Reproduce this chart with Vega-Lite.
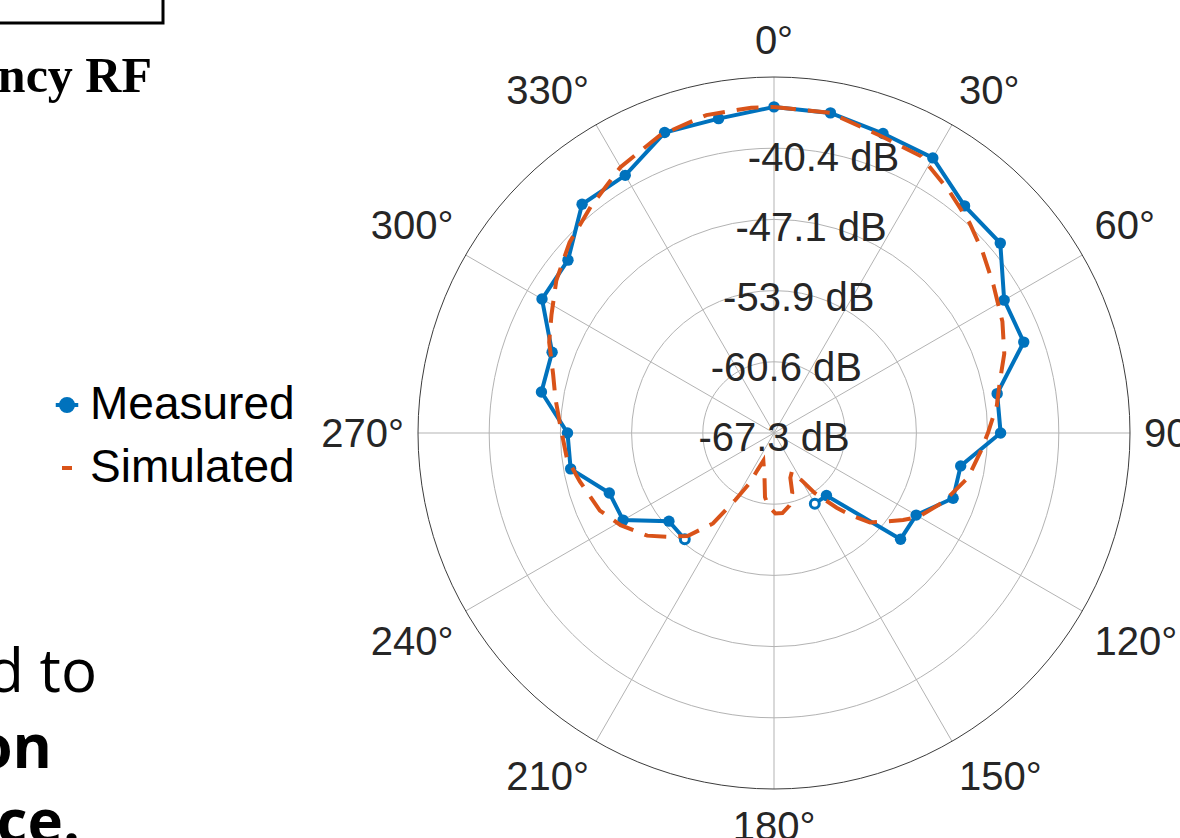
{
  "$schema": "https://vega.github.io/schema/vega-lite/v6.json",
  "width": 1180,
  "height": 838,
  "autosize": "none",
  "padding": 0,
  "background": "white",
  "config": {"view": {"stroke": null}, "font": "Liberation Sans"},
  "datasets": {
    "measured": [
      {"deg": 220, "db": -54.2}, {"deg": 230, "db": -54.35}, {"deg": 240, "db": -50.85}, {"deg": 250, "db": -50.75},
      {"deg": 260, "db": -47.8}, {"deg": 270, "db": -47.8}, {"deg": 280, "db": -45.0}, {"deg": 290, "db": -45.0},
      {"deg": 300, "db": -42.0}, {"deg": 310, "db": -41.9}, {"deg": 320, "db": -39.1}, {"deg": 330, "db": -39.2},
      {"deg": 340, "db": -37.1}, {"deg": 350, "db": -37.15}, {"deg": 0, "db": -36.5}, {"deg": 10, "db": -36.6},
      {"deg": 20, "db": -37.2}, {"deg": 30, "db": -37.3}, {"deg": 40, "db": -39.3}, {"deg": 50, "db": -39.4},
      {"deg": 60, "db": -42.2}, {"deg": 70, "db": -42.2}, {"deg": 80, "db": -45.9}, {"deg": 90, "db": -45.9},
      {"deg": 100, "db": -49.4}, {"deg": 110, "db": -49.3}, {"deg": 120, "db": -51.8}, {"deg": 130, "db": -51.7},
      {"deg": 140, "db": -59.6}, {"deg": 150, "db": -59.6}
    ],
    "simulated": [
      {"deg": 0, "db": -36.5}, {"deg": 10, "db": -36.6}, {"deg": 20, "db": -37.5}, {"deg": 28, "db": -37.7},
      {"deg": 36, "db": -39.1}, {"deg": 43, "db": -40.2}, {"deg": 49, "db": -41.2}, {"deg": 56, "db": -42.3},
      {"deg": 64, "db": -43.3}, {"deg": 71, "db": -44.3}, {"deg": 77, "db": -45.4}, {"deg": 83, "db": -46.1},
      {"deg": 90, "db": -47.1}, {"deg": 95, "db": -47.7}, {"deg": 103, "db": -48.5}, {"deg": 112, "db": -50.0},
      {"deg": 120, "db": -51.5}, {"deg": 124, "db": -52.6}, {"deg": 129, "db": -54.0}, {"deg": 133, "db": -54.9},
      {"deg": 137, "db": -56.7}, {"deg": 140, "db": -58.1}, {"deg": 146, "db": -60.5}, {"deg": 149, "db": -61.9},
      {"deg": 155, "db": -63.3}, {"deg": 160, "db": -62.8}, {"deg": 163, "db": -61.4}, {"deg": 168, "db": -60.3},
      {"deg": 174, "db": -59.7}, {"deg": 179, "db": -59.7}, {"deg": 185, "db": -60.5}, {"deg": 188, "db": -61.2},
      {"deg": 192, "db": -63.0}, {"deg": 197, "db": -64.0}, {"deg": 201, "db": -64.5}, {"deg": 204, "db": -63.5},
      {"deg": 206, "db": -62.0}, {"deg": 210, "db": -60.0}, {"deg": 214, "db": -57.0}, {"deg": 220, "db": -54.6},
      {"deg": 226, "db": -53.2}, {"deg": 231, "db": -51.9}, {"deg": 239, "db": -50.4}, {"deg": 246, "db": -49.3},
      {"deg": 256, "db": -48.4}, {"deg": 263, "db": -47.6}, {"deg": 272, "db": -47.1}, {"deg": 279, "db": -46.4},
      {"deg": 285, "db": -45.7}, {"deg": 292, "db": -44.4}, {"deg": 298, "db": -43.5}, {"deg": 305, "db": -42.2},
      {"deg": 313, "db": -40.9}, {"deg": 321, "db": -39.8}, {"deg": 330, "db": -38.3}, {"deg": 339, "db": -37.2},
      {"deg": 348, "db": -36.6}, {"deg": 356, "db": -36.5}, {"deg": 360, "db": -36.5}
    ],
    "rings": [
      {"db": -67.31, "label": "-67.3 dB"},
      {"db": -60.583, "label": "-60.6 dB"},
      {"db": -53.856, "label": "-53.9 dB"},
      {"db": -47.129, "label": "-47.1 dB"},
      {"db": -40.402, "label": "-40.4 dB"},
      {"db": -33.675, "label": ""}
    ],
    "spokes": [
      {"deg": 0, "label": "0°"}, {"deg": 30, "label": "30°"}, {"deg": 60, "label": "60°"}, {"deg": 90, "label": "90°"},
      {"deg": 120, "label": "120°"}, {"deg": 150, "label": "150°"}, {"deg": 180, "label": "180°"}, {"deg": 210, "label": "210°"},
      {"deg": 240, "label": "240°"}, {"deg": 270, "label": "270°"}, {"deg": 300, "label": "300°"}, {"deg": 330, "label": "330°"}
    ]
  },
  "layer": [
    {
      "data": {"name": "rings"},
      "transform": [
        {"filter": "datum.db > -67 && datum.db < -34"},
        {"calculate": "(datum.db + 67.31) / 33.635 * 356", "as": "r"},
        {"calculate": "0", "as": "cx"},
        {"calculate": "0", "as": "cy"}
      ],
      "mark": {"type": "point", "shape": "circle", "filled": false, "stroke": "#b3b3b3", "strokeWidth": 1, "opacity": 1},
      "encoding": {
        "x": {"field": "cx", "type": "quantitative", "scale": {"domain": [-774, 406], "nice": false, "zero": false}, "axis": null},
        "y": {"field": "cy", "type": "quantitative", "scale": {"domain": [-405, 433], "nice": false, "zero": false}, "axis": null},
        "size": {"field": "r", "type": "quantitative", "scale": {"type": "pow", "exponent": 2, "domain": [0, 356], "range": [0, 506944], "zero": true, "nice": false}, "legend": null}
      }
    },
    {
      "data": {"name": "spokes"},
      "transform": [
        {"calculate": "datum.deg * PI / 180", "as": "t"},
        {"calculate": "0", "as": "cx"},
        {"calculate": "0", "as": "cy"},
        {"calculate": "356 * sin(datum.t)", "as": "ex"},
        {"calculate": "356 * cos(datum.t)", "as": "ey"}
      ],
      "mark": {"type": "rule", "color": "#b3b3b3", "strokeWidth": 1},
      "encoding": {
        "x": {"field": "cx", "type": "quantitative", "scale": {"domain": [-774, 406], "nice": false, "zero": false}, "axis": null},
        "y": {"field": "cy", "type": "quantitative", "scale": {"domain": [-405, 433], "nice": false, "zero": false}, "axis": null},
        "x2": {"field": "ex"},
        "y2": {"field": "ey"}
      }
    },
    {
      "data": {"name": "rings"},
      "transform": [
        {"filter": "datum.db > -34"},
        {"calculate": "(datum.db + 67.31) / 33.635 * 356", "as": "r"},
        {"calculate": "0", "as": "cx"},
        {"calculate": "0", "as": "cy"}
      ],
      "mark": {"type": "point", "shape": "circle", "filled": false, "stroke": "#3c3c3c", "strokeWidth": 1, "opacity": 1},
      "encoding": {
        "x": {"field": "cx", "type": "quantitative", "scale": {"domain": [-774, 406], "nice": false, "zero": false}, "axis": null},
        "y": {"field": "cy", "type": "quantitative", "scale": {"domain": [-405, 433], "nice": false, "zero": false}, "axis": null},
        "size": {"field": "r", "type": "quantitative", "scale": {"type": "pow", "exponent": 2, "domain": [0, 356], "range": [0, 506944], "zero": true, "nice": false}, "legend": null}
      }
    },
    {
      "data": {"name": "measured"},
      "transform": [
        {"calculate": "'Measured'", "as": "series"},
        {"calculate": "datum.deg >= 200 ? datum.deg - 360 : datum.deg", "as": "ord"},
        {"calculate": "(datum.db + 67.31) / 33.635 * 356", "as": "r"},
        {"calculate": "datum.r * sin(datum.deg * PI / 180)", "as": "px"},
        {"calculate": "datum.r * cos(datum.deg * PI / 180)", "as": "py"}
      ],
      "mark": {"type": "line", "strokeWidth": 4},
      "encoding": {
        "x": {"field": "px", "type": "quantitative", "scale": {"domain": [-774, 406], "nice": false, "zero": false}, "axis": null},
        "y": {"field": "py", "type": "quantitative", "scale": {"domain": [-405, 433], "nice": false, "zero": false}, "axis": null},
        "order": {"field": "ord", "type": "quantitative"},
        "color": {
          "field": "series",
          "type": "nominal",
          "scale": {"domain": ["Measured", "Simulated"], "range": ["#0072BD", "#D95319"]},
          "legend": {
            "orient": "none",
            "legendX": 44,
            "legendY": 382,
            "title": null,
            "padding": 0,
            "labelFont": "Liberation Sans",
            "labelFontSize": 46,
            "labelColor": "#000000",
            "labelOffset": 0,
            "labelLimit": 600,
            "symbolSize": 625,
            "rowPadding": 17,
            "encode": {
              "symbols": {
                "update": {
                  "shape": {"signal": "datum.value === 'Measured' ? 'M-0.9,0L0.9,0M0.48,0A0.48,0.48 0 1,1 -0.48,0A0.48,0.48 0 1,1 0.48,0Z' : 'M-0.4,0L0.4,0'"},
                  "fill": {"signal": "datum.value === 'Measured' ? '#0072BD' : 'transparent'"},
                  "stroke": {"signal": "datum.value === 'Measured' ? '#0072BD' : '#D95319'"},
                  "strokeWidth": {"value": 4},
                  "opacity": {"value": 1}
                }
              }
            }
          }
        }
      }
    },
    {
      "data": {"name": "measured"},
      "transform": [
        {"filter": "datum.deg != 150 && datum.deg != 220"},
        {"calculate": "(datum.db + 67.31) / 33.635 * 356", "as": "r"},
        {"calculate": "datum.r * sin(datum.deg * PI / 180)", "as": "px"},
        {"calculate": "datum.r * cos(datum.deg * PI / 180)", "as": "py"}
      ],
      "mark": {"type": "point", "shape": "circle", "filled": true, "color": "#0072BD", "size": 130, "opacity": 1},
      "encoding": {
        "x": {"field": "px", "type": "quantitative", "scale": {"domain": [-774, 406], "nice": false, "zero": false}, "axis": null},
        "y": {"field": "py", "type": "quantitative", "scale": {"domain": [-405, 433], "nice": false, "zero": false}, "axis": null}
      }
    },
    {
      "data": {"name": "measured"},
      "transform": [
        {"filter": "datum.deg == 150 || datum.deg == 220"},
        {"calculate": "(datum.db + 67.31) / 33.635 * 356", "as": "r"},
        {"calculate": "datum.r * sin(datum.deg * PI / 180)", "as": "px"},
        {"calculate": "datum.r * cos(datum.deg * PI / 180)", "as": "py"}
      ],
      "mark": {"type": "point", "shape": "circle", "filled": true, "fill": "#ffffff", "stroke": "#0072BD", "strokeWidth": 3, "size": 80, "opacity": 1},
      "encoding": {
        "x": {"field": "px", "type": "quantitative", "scale": {"domain": [-774, 406], "nice": false, "zero": false}, "axis": null},
        "y": {"field": "py", "type": "quantitative", "scale": {"domain": [-405, 433], "nice": false, "zero": false}, "axis": null}
      }
    },
    {
      "data": {"name": "simulated"},
      "transform": [
        {"calculate": "'Simulated'", "as": "series"},
        {"calculate": "(datum.db + 67.31) / 33.635 * 356", "as": "r"},
        {"calculate": "datum.r * sin(datum.deg * PI / 180)", "as": "px"},
        {"calculate": "datum.r * cos(datum.deg * PI / 180)", "as": "py"}
      ],
      "mark": {"type": "line", "strokeWidth": 4, "strokeDash": [22, 12]},
      "encoding": {
        "x": {"field": "px", "type": "quantitative", "scale": {"domain": [-774, 406], "nice": false, "zero": false}, "axis": null},
        "y": {"field": "py", "type": "quantitative", "scale": {"domain": [-405, 433], "nice": false, "zero": false}, "axis": null},
        "order": {"field": "deg", "type": "quantitative"},
        "color": {"field": "series", "type": "nominal"}
      }
    },
    {
      "data": {"name": "rings"},
      "transform": [
        {"filter": "datum.db < -34"},
        {"calculate": "(datum.db + 67.31) / 33.635 * 356", "as": "r"},
        {"calculate": "datum.r * sin(10 * PI / 180)", "as": "px"},
        {"calculate": "datum.r * cos(10 * PI / 180)", "as": "py"}
      ],
      "mark": {"type": "text", "font": "Liberation Sans", "fontSize": 40, "color": "#262626", "align": "center", "baseline": "middle", "dy": 6},
      "encoding": {
        "x": {"field": "px", "type": "quantitative", "scale": {"domain": [-774, 406], "nice": false, "zero": false}, "axis": null},
        "y": {"field": "py", "type": "quantitative", "scale": {"domain": [-405, 433], "nice": false, "zero": false}, "axis": null},
        "text": {"field": "label"}
      }
    },
    {
      "data": {"name": "spokes"},
      "transform": [
        {"filter": "datum.deg == 0 || datum.deg == 180"},
        {"calculate": "datum.deg * PI / 180", "as": "t"},
        {"calculate": "370 * sin(datum.t)", "as": "px"},
        {"calculate": "370 * cos(datum.t) + (abs(cos(datum.t)) < 0.01 ? 0 : (cos(datum.t) > 0 ? 23 : -23)) - 2", "as": "py"}
      ],
      "mark": {"type": "text", "font": "Liberation Sans", "fontSize": 40, "color": "#262626", "align": "center", "baseline": "middle"},
      "encoding": {
        "x": {"field": "px", "type": "quantitative", "scale": {"domain": [-774, 406], "nice": false, "zero": false}, "axis": null},
        "y": {"field": "py", "type": "quantitative", "scale": {"domain": [-405, 433], "nice": false, "zero": false}, "axis": null},
        "text": {"field": "label"}
      }
    },
    {
      "data": {"name": "spokes"},
      "transform": [
        {"filter": "datum.deg > 0 && datum.deg < 180"},
        {"calculate": "datum.deg * PI / 180", "as": "t"},
        {"calculate": "370 * sin(datum.t)", "as": "px"},
        {"calculate": "370 * cos(datum.t) + (abs(cos(datum.t)) < 0.01 ? 0 : (cos(datum.t) > 0 ? 23 : -23)) - 2", "as": "py"}
      ],
      "mark": {"type": "text", "font": "Liberation Sans", "fontSize": 40, "color": "#262626", "align": "left", "baseline": "middle"},
      "encoding": {
        "x": {"field": "px", "type": "quantitative", "scale": {"domain": [-774, 406], "nice": false, "zero": false}, "axis": null},
        "y": {"field": "py", "type": "quantitative", "scale": {"domain": [-405, 433], "nice": false, "zero": false}, "axis": null},
        "text": {"field": "label"}
      }
    },
    {
      "data": {"name": "spokes"},
      "transform": [
        {"filter": "datum.deg > 180"},
        {"calculate": "datum.deg * PI / 180", "as": "t"},
        {"calculate": "370 * sin(datum.t)", "as": "px"},
        {"calculate": "370 * cos(datum.t) + (abs(cos(datum.t)) < 0.01 ? 0 : (cos(datum.t) > 0 ? 23 : -23)) - 2", "as": "py"}
      ],
      "mark": {"type": "text", "font": "Liberation Sans", "fontSize": 40, "color": "#262626", "align": "right", "baseline": "middle"},
      "encoding": {
        "x": {"field": "px", "type": "quantitative", "scale": {"domain": [-774, 406], "nice": false, "zero": false}, "axis": null},
        "y": {"field": "py", "type": "quantitative", "scale": {"domain": [-405, 433], "nice": false, "zero": false}, "axis": null},
        "text": {"field": "label"}
      }
    },
    {
      "data": {"values": [{"note": "box"}]},
      "transform": [
        {"calculate": "-800", "as": "bx1"},
        {"calculate": "-611", "as": "bx2"},
        {"calculate": "410", "as": "by1"},
        {"calculate": "460", "as": "by2"}
      ],
      "mark": {"type": "rect", "filled": false, "stroke": "#000000", "strokeWidth": 3},
      "encoding": {
        "x": {"field": "bx1", "type": "quantitative", "scale": {"domain": [-774, 406], "nice": false, "zero": false}, "axis": null},
        "x2": {"field": "bx2"},
        "y": {"field": "by1", "type": "quantitative", "scale": {"domain": [-405, 433], "nice": false, "zero": false}, "axis": null},
        "y2": {"field": "by2"}
      }
    },
    {
      "data": {"values": [{"text": "ncy RF"}]},
      "transform": [
        {"calculate": "-622", "as": "ax"},
        {"calculate": "341", "as": "ay"}
      ],
      "mark": {"type": "text", "font": "Liberation Serif", "fontWeight": "bold", "fontSize": 50, "color": "#000000", "align": "right", "baseline": "alphabetic"},
      "encoding": {
        "x": {"field": "ax", "type": "quantitative", "scale": {"domain": [-774, 406], "nice": false, "zero": false}, "axis": null},
        "y": {"field": "ay", "type": "quantitative", "scale": {"domain": [-405, 433], "nice": false, "zero": false}, "axis": null},
        "text": {"field": "text"}
      }
    },
    {
      "data": {"values": [{"text": "d to"}]},
      "transform": [
        {"calculate": "-677", "as": "ax"},
        {"calculate": "-259", "as": "ay"}
      ],
      "mark": {"type": "text", "font": "Open Sans", "fontSize": 60, "color": "#000000", "align": "right", "baseline": "alphabetic"},
      "encoding": {
        "x": {"field": "ax", "type": "quantitative", "scale": {"domain": [-774, 406], "nice": false, "zero": false}, "axis": null},
        "y": {"field": "ay", "type": "quantitative", "scale": {"domain": [-405, 433], "nice": false, "zero": false}, "axis": null},
        "text": {"field": "text"}
      }
    },
    {
      "data": {"values": [{"text": "on"}, {"text": "ce."}]},
      "transform": [
        {"calculate": "datum.text == 'on' ? -722 : -694", "as": "ax"},
        {"calculate": "datum.text == 'on' ? -335 : -410", "as": "ay"}
      ],
      "mark": {"type": "text", "font": "Open Sans", "fontWeight": "bold", "fontSize": 60, "color": "#000000", "align": "right", "baseline": "alphabetic"},
      "encoding": {
        "x": {"field": "ax", "type": "quantitative", "scale": {"domain": [-774, 406], "nice": false, "zero": false}, "axis": null},
        "y": {"field": "ay", "type": "quantitative", "scale": {"domain": [-405, 433], "nice": false, "zero": false}, "axis": null},
        "text": {"field": "text"}
      }
    }
  ]
}
